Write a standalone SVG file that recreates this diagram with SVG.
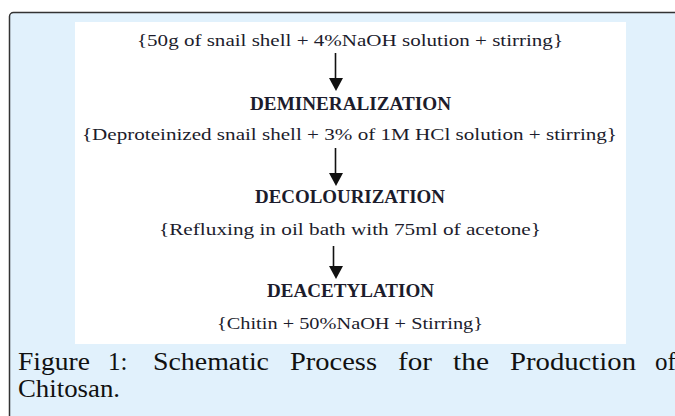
<svg xmlns="http://www.w3.org/2000/svg" width="675" height="416" viewBox="0 0 675 416">
<defs>
<style>
.t{font-family:"Liberation Serif","DejaVu Serif",serif;font-size:17.5px;fill:#1c1c2c;}
.b{font-family:"Liberation Serif","DejaVu Serif",serif;font-size:18px;font-weight:bold;fill:#1c1c2c;}
.c{font-family:"Liberation Serif","DejaVu Serif",serif;font-size:25px;fill:#111;}
.a{stroke:#111;stroke-width:1.6;fill:none;}
.h{fill:#111;}
</style>
</defs>
<rect x="9.5" y="12.5" width="690" height="420" rx="4" fill="#e1f1fc" stroke="#333" stroke-width="1.5"/>
<rect x="75" y="22" width="551" height="322" fill="#fff"/>
<g id="connectors">
<path class="a" d="M335.5,53 V78"/>
<path class="h" d="M329,78 L343,78 L336,91 Z"/>
<path class="a" d="M335.5,148 V173"/>
<path class="h" d="M329,173 L343,173 L336,186 Z"/>
<path class="a" d="M333.5,246 V266"/>
<path class="h" d="M329,266 L343,266 L336,279 Z"/>
</g>
<g id="step1"><text class="t" x="137" y="46" textLength="426" lengthAdjust="spacingAndGlyphs">{50g of snail shell + 4%NaOH solution + stirring}</text></g>
<g id="demineralization"><text class="b" x="250" y="110" textLength="201" lengthAdjust="spacingAndGlyphs">DEMINERALIZATION</text></g>
<g id="step2"><text class="t" x="82" y="140" textLength="535" lengthAdjust="spacingAndGlyphs">{Deproteinized snail shell + 3% of 1M HCl solution + stirring}</text></g>
<g id="decolourization"><text class="b" x="255" y="203" textLength="190" lengthAdjust="spacingAndGlyphs">DECOLOURIZATION</text></g>
<g id="step3"><text class="t" x="159" y="235" textLength="382" lengthAdjust="spacingAndGlyphs">{Refluxing in oil bath with 75ml of acetone}</text></g>
<g id="deacetylation"><text class="b" x="267" y="297" textLength="167" lengthAdjust="spacingAndGlyphs">DEACETYLATION</text></g>
<g id="step4"><text class="t" x="217" y="329" font-size="16.5" textLength="266" lengthAdjust="spacingAndGlyphs">{Chitin + 50%NaOH + Stirring}</text></g>
<g id="caption">
<text class="c" x="18" y="370" textLength="72" lengthAdjust="spacingAndGlyphs">Figure</text>
<text class="c" x="108" y="370">1:</text>
<text class="c" x="153" y="370" textLength="116" lengthAdjust="spacingAndGlyphs">Schematic</text>
<text class="c" x="290" y="370" textLength="87" lengthAdjust="spacingAndGlyphs">Process</text>
<text class="c" x="398" y="370" textLength="34" lengthAdjust="spacingAndGlyphs">for</text>
<text class="c" x="453" y="370" textLength="36" lengthAdjust="spacingAndGlyphs">the</text>
<text class="c" x="510" y="370" textLength="126" lengthAdjust="spacingAndGlyphs">Production</text>
<text class="c" x="655" y="370">of</text>
<text class="c" x="18" y="397" textLength="102" lengthAdjust="spacingAndGlyphs">Chitosan.</text>
</g>
</svg>
